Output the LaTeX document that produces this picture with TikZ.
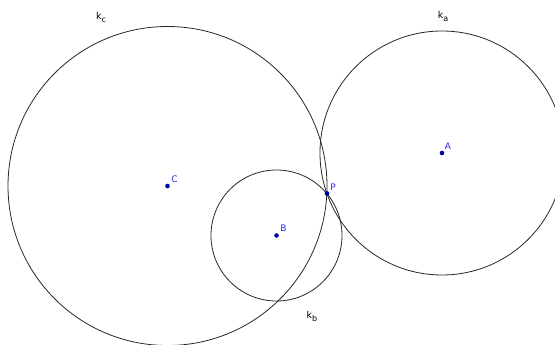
\documentclass[tikz,border=0pt]{standalone}
\usepackage{fontspec}
\setmainfont{DejaVu Sans}
\definecolor{ptblue}{RGB}{0,0,160}
\definecolor{lblblue}{RGB}{40,40,230}
\newcommand{\ksub}[1]{k\raisebox{-3pt}{\fontsize{8}{9}\selectfont #1}}
\begin{document}
\begin{tikzpicture}[x=1pt,y=-1pt,
  circ/.style={draw=black!85,line width=0.8pt},
  pt/.style={circle,fill=ptblue,inner sep=0pt,minimum size=4.6pt},
  ptlabel/.style={text=lblblue,font=\fontsize{9}{10}\selectfont,inner sep=0pt},
  klabel/.style={text=black,font=\fontsize{9.5}{10}\selectfont,inner sep=0pt}]
\useasboundingbox (0,0) rectangle (555,345);
\begin{scope}
\clip (0,0) rectangle (555,345);
\coordinate (Cc) at (167.5,186);
\coordinate (Ac) at (442,153);
\coordinate (Bc) at (276.5,235.5);
\draw[circ] (Cc) circle[radius=159.5];
\draw[circ] (Ac) circle[radius=122];
\draw[circ] (Bc) circle[radius=65.5];
\end{scope}
\node[pt] (C) at (Cc) {};
\node[pt] (A) at (Ac) {};
\node[pt] (B) at (Bc) {};
\node[pt] (P) at (327,193.5) {};
\node[ptlabel] (lC) at (174.5,179.5) {C};
\node[ptlabel] (lA) at (448,146) {A};
\node[ptlabel] (lB) at (283.5,228.5) {B};
\node[ptlabel] (lP) at (333,187) {P};
\node[klabel] (kc) at (101,17) {\ksub{c}};
\node[klabel] (ka) at (443,16) {\ksub{a}};
\node[klabel] (kb) at (312,316) {\ksub{b}};
\end{tikzpicture}
\end{document}
